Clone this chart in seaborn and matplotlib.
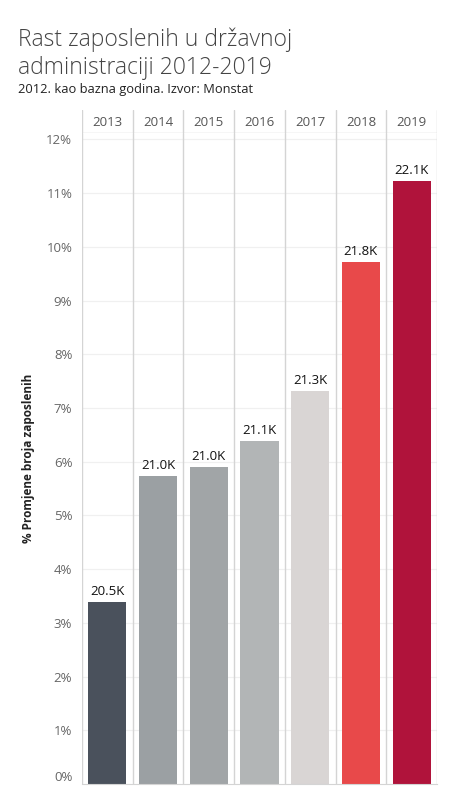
import matplotlib
matplotlib.use("Agg")
import matplotlib.pyplot as plt
import seaborn as sns
import pandas as pd

# Data
years = ["2013", "2014", "2015", "2016", "2017", "2018", "2019"]
pct_change = [3.39, 5.74, 5.90, 6.39, 7.32, 9.71, 11.22]
employees = ["20.5K", "21.0K", "21.0K", "21.1K", "21.3K", "21.8K", "22.1K"]
bar_colors = ["#4a515c", "#9ba0a3", "#a1a5a7", "#b2b5b6", "#d9d5d4", "#e8494a", "#b0133b"]
y_ticks = list(range(0, 13))

sns.set_style("white")
plt.rcParams["font.family"] = ["Open Sans", "DejaVu Sans"]

df = pd.DataFrame({"year": years, "pct": pct_change})

W, H = 450, 800
fig = plt.figure(figsize=(4.5, 8), dpi=100)

# main plot area (pixel coordinates taken from reference)
left, right, top, bottom = 82, 437, 133, 784
ax = fig.add_axes([left / W, 1 - bottom / H, (right - left) / W, (bottom - top) / H])
head = fig.add_axes([left / W, 1 - top / H, (right - left) / W, (top - 110) / H])

sns.barplot(data=df, x="year", y="pct", hue="year", palette=bar_colors,
            legend=False, width=0.75, ax=ax, linewidth=0, saturation=1)

ax.set_xlim(-0.5, len(years) - 0.5)
ax.set_ylim(0, 12.12)
ax.set_yticks(y_ticks)
ax.set_yticklabels([f"{t}%" for t in y_ticks], color="#666666", fontsize=9.5)
ax.get_yticklabels()[0].set_va("bottom")
ax.tick_params(axis="y", length=0, pad=7)
ax.set_xticks([])
ax.set_xlabel("")
ax.set_ylabel("% Promjene broja zaposlenih", fontsize=8.5, fontweight="bold",
              color="#222222", labelpad=8)

# light horizontal gridlines
for t in y_ticks[1:]:
    ax.axhline(t, color="#f0f0f0", lw=0.9, zorder=0)
# column separators
for i in range(len(years) + 1):
    ax.axvline(i - 0.5, color="#d4d4d4", lw=1.0, zorder=0.5)
for s in ["top", "right", "left"]:
    ax.spines[s].set_visible(False)
ax.spines["bottom"].set_color("#d4d4d4")

# value labels on bars
for cont, lab in zip(ax.containers, employees):
    ax.bar_label(cont, labels=[lab], padding=3, fontsize=9.5, color="#111111")

# header row with years
head.set_xlim(-0.5, len(years) - 0.5)
head.set_ylim(0, 1)
for i in range(len(years) + 1):
    head.axvline(i - 0.5, color="#d4d4d4", lw=1.0)
for i, y in enumerate(years):
    head.text(i, 0.45, y, ha="center", va="center", fontsize=9.5, color="#555555")
head.axhline(0, color="#d4d4d4", lw=1.0)
head.set_xticks([])
head.set_yticks([])
for s in head.spines.values():
    s.set_visible(False)

# titles
fig.text(18 / W, 1 - 40 / H, "Rast zaposlenih u državnoj", fontsize=16.5,
         color="#444444", va="center", ha="left", fontweight="light")
fig.text(18 / W, 1 - 68 / H, "administraciji 2012-2019", fontsize=16.5,
         color="#444444", va="center", ha="left", fontweight="light")
fig.text(18 / W, 1 - 90 / H, "2012. kao bazna godina. Izvor: Monstat", fontsize=9.3,
         color="#222222", va="center", ha="left")

fig.savefig("out.png", dpi=100, facecolor="white")
